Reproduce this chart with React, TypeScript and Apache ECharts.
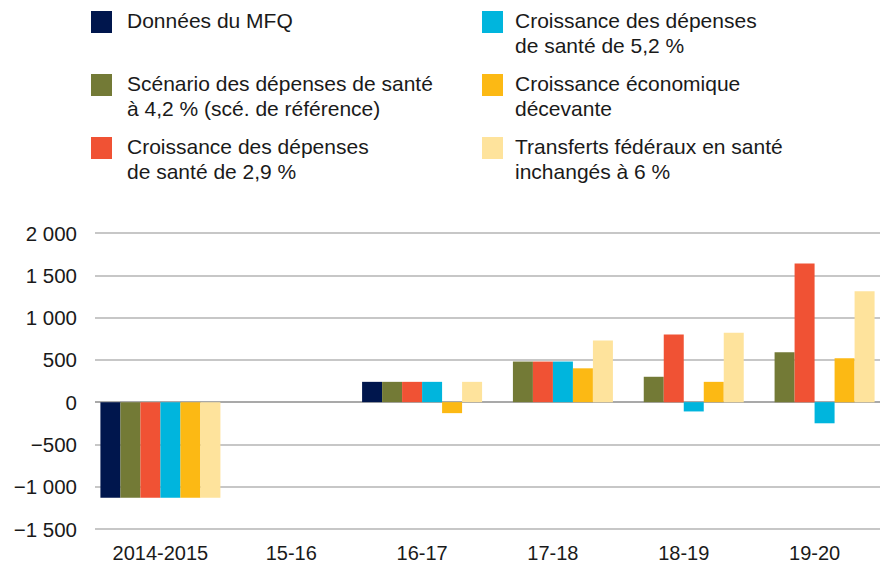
import React, { useEffect, useRef } from "react";
import * as echarts from "echarts";

const categories = ["2014-2015", "15-16", "16-17", "17-18", "18-19", "19-20"];
const seriesNames = [
  "Données du MFQ",
  "Scénario des dépenses de santé\nà 4,2 % (scé. de référence)",
  "Croissance des dépenses\nde santé de 2,9 %",
  "Croissance des dépenses\nde santé de 5,2 %",
  "Croissance économique\ndécevante",
  "Transferts fédéraux en santé\ninchangés à 6 %",
];
const colors = ["#00164d", "#737a36", "#f05234", "#00b5dd", "#fcb914", "#fee39c"];

const mfq = [-1130, null, 240, null, null, null];
const reference42 = [-1130, null, 240, 480, 300, 590];
const growth29 = [-1130, null, 240, 480, 800, 1640];
const growth52 = [-1130, null, 240, 480, -110, -250];
const weakEconomy = [-1130, null, -130, 400, 240, 520];
const federalTransfers = [-1130, null, 240, 730, 820, 1310];
const seriesValues = [mfq, reference42, growth29, growth52, weakEconomy, federalTransfers];

const yTicks = [-1500, -1000, -500, 0, 500, 1000, 1500, 2000];

const fmt = (v: number) => {
  const abs = Math.abs(v);
  const s = abs >= 1000 ? `${Math.floor(abs / 1000)} ${String(abs % 1000).padStart(3, "0")}` : String(abs);
  return v < 0 ? `\u2212${s}` : s;
};

export default function App() {
  const ref = useRef<HTMLDivElement>(null);
  useEffect(() => {
    document.body.style.margin = "0";
    if (!ref.current) return;
    const chart = echarts.init(ref.current, null, { renderer: "svg" });
    const font = "'Liberation Sans', Arial, Helvetica, sans-serif";
    const legendPos = [
      { x: 91, y: 11, tx: 127 },
      { x: 91, y: 74, tx: 127 },
      { x: 91, y: 137, tx: 127 },
      { x: 482, y: 11, tx: 515 },
      { x: 482, y: 74, tx: 515 },
      { x: 482, y: 137, tx: 515 },
    ];
    const graphics: any[] = [];
    seriesNames.forEach((name, i) => {
      const p = legendPos[i];
      graphics.push({
        type: "rect",
        shape: { x: p.x, y: p.y, width: 21, height: 22 },
        style: { fill: colors[i] },
      });
      graphics.push({
        type: "text",
        x: p.tx,
        y: p.y - 3,
        style: {
          text: name,
          font: `21px ${font}`,
          fill: "#1a1a1a",
          lineHeight: 25,
          verticalAlign: "top",
          align: "left",
        },
      });
    });
    const splitColors = yTicks.map((t) => (t === 0 ? "#8c8c8c" : "#b5b5b5"));
    chart.setOption({
      animation: false,
      grid: { left: 95, right: -3, top: 233, bottom: 40 },
      graphic: graphics,
      xAxis: {
        type: "category",
        data: categories,
        axisLine: { show: false },
        axisTick: { show: false },
        axisLabel: { fontSize: 20, fontFamily: font, color: "#1a1a1a", margin: 14 },
      },
      yAxis: {
        type: "value",
        min: -1500,
        max: 2000,
        interval: 500,
        axisLine: { show: false },
        axisTick: { show: false },
        splitLine: { lineStyle: { color: splitColors, width: 1.5 } },
        axisLabel: {
          fontSize: 20.5,
          fontFamily: font,
          color: "#1a1a1a",
          margin: 18,
          formatter: (v: number) => fmt(v),
        },
      },
      series: seriesValues.map((vals, i) => ({
        type: "bar",
        name: seriesNames[i],
        data: vals,
        barWidth: 20,
        barGap: "0%",
        itemStyle: { color: colors[i] },
      })),
    });
    return () => chart.dispose();
  }, []);
  return <div ref={ref} style={{ width: 880, height: 569 }} />;
}
